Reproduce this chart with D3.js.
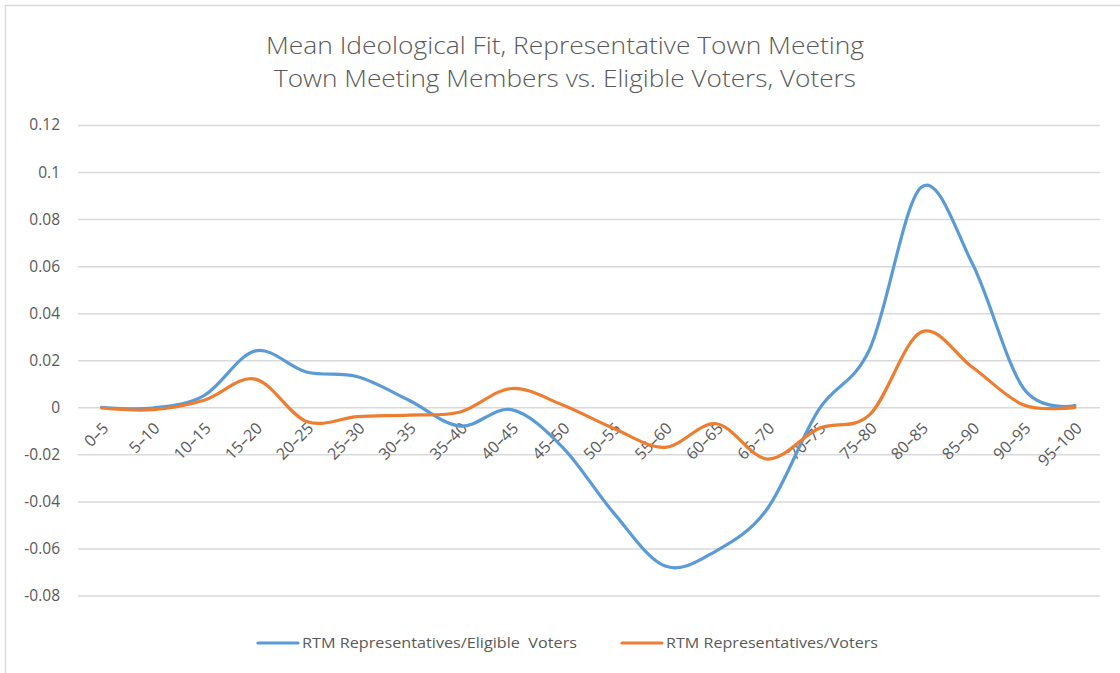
<!DOCTYPE html>
<html>
<head>
<meta charset="utf-8">
<script src="https://cdn.jsdelivr.net/npm/d3@7"></script>
<style>
  html, body { margin: 0; padding: 0; background: #ffffff; }
  svg { display: block; }
  text { font-family: "Open Sans", "Noto Sans", sans-serif; fill: #595959; }
</style>
</head>
<body>
<svg id="chart" width="1120" height="673"></svg>
<script>
const categories = ["0–5","5–10","10–15","15–20","20–25","25–30","30–35","35–40","40–45","45–50",
                    "50–55","55–60","60–65","65–70","70–75","75–80","80–85","85–90","90–95","95–100"];
const eligibleVoters = [0, -0.0003, 0.005, 0.024, 0.015, 0.013, 0.003, -0.008, -0.001, -0.017,
                        -0.045, -0.0675, -0.061, -0.043, -0.001, 0.025, 0.0935, 0.061, 0.008, 0.0007];
const voters = [-0.0003, -0.001, 0.003, 0.012, -0.006, -0.004, -0.0033, -0.002, 0.008, 0.001,
                -0.009, -0.017, -0.007, -0.022, -0.009, -0.003, 0.032, 0.017, 0.001, 0];
const yTickValues = [-0.08, -0.06, -0.04, -0.02, 0, 0.02, 0.04, 0.06, 0.08, 0.1, 0.12];
const yTickLabels = ["-0.08", "-0.06", "-0.04", "-0.02", "0", "0.02", "0.04", "0.06", "0.08", "0.1", "0.12"];
const titleLines = ["Mean Ideological Fit, Representative Town Meeting",
                    "Town Meeting Members vs. Eligible Voters, Voters"];
const seriesNames = ["RTM Representatives/Eligible  Voters", "RTM Representatives/Voters"];
const seriesColors = ["#5B9BD5", "#ED7D31"];

const svg = d3.select("#chart");

// chart frame
svg.append("rect")
  .attr("x", 5.5).attr("y", 5.5).attr("width", 1130).attr("height", 690)
  .attr("fill", "#ffffff").attr("stroke", "#d9d9d9").attr("stroke-width", 1.5);

const x = d3.scaleBand().domain(categories).range([76, 1100.5]);
const cx = d => x(d) + x.bandwidth() / 2;
const y = d3.scaleLinear().domain([-0.08, 0.12]).range([595.5, 125]);

// gridlines + y labels
const yAxis = d3.axisLeft(y).tickValues(yTickValues)
  .tickFormat((d, i) => yTickLabels[i]).tickSize(-(1100 - 78)).tickPadding(18);
const gy = svg.append("g").attr("transform", "translate(78,0)").call(yAxis);
gy.select(".domain").remove();
gy.selectAll(".tick line").attr("stroke", "#d9d9d9").attr("stroke-width", 1.5);
gy.selectAll(".tick text").attr("font-size", 15.5).attr("fill", "#595959")
  .style("font-family", "'Open Sans', sans-serif");

// category labels (rotated)
svg.append("g").selectAll("text").data(categories).join("text")
  .attr("transform", d => `translate(${cx(d) + 4},${y(0) + 18}) rotate(-45)`)
  .attr("text-anchor", "end")
  .attr("dy", "0.35em")
  .attr("font-size", 16)
  .text(d => d);

// lines
const line = d3.line()
  .x((d, i) => cx(categories[i]))
  .y(d => y(d))
  .curve(d3.curveCardinal.tension(0));

[eligibleVoters, voters].forEach((s, k) => {
  svg.append("path").datum(s)
    .attr("d", line)
    .attr("fill", "none")
    .attr("stroke", seriesColors[k])
    .attr("stroke-width", 3.2)
    .attr("stroke-linecap", "round")
    .attr("stroke-linejoin", "round");
});

// title
svg.append("g").selectAll("text").data(titleLines).join("text")
  .attr("x", 565).attr("y", (d, i) => 54 + i * 33)
  .attr("text-anchor", "middle")
  .attr("font-size", 23)
  .attr("font-weight", 300)
  .attr("textLength", (d, i) => i === 0 ? 598 : 582)
  .attr("lengthAdjust", "spacingAndGlyphs")
  .text(d => d);

// legend
const legendX = [258, 622];
const legendW = [275, 212];
const lg = svg.append("g");
seriesNames.forEach((name, k) => {
  lg.append("line")
    .attr("x1", legendX[k]).attr("x2", legendX[k] + 40)
    .attr("y1", 643).attr("y2", 643)
    .attr("stroke", seriesColors[k]).attr("stroke-width", 3.2).attr("stroke-linecap", "round");
  lg.append("text")
    .attr("x", legendX[k] + 44).attr("y", 643).attr("dy", "0.35em")
    .attr("font-size", 15)
    .attr("textLength", legendW[k])
    .attr("lengthAdjust", "spacingAndGlyphs")
    .style("white-space", "pre")
    .text(name);
});
</script>
</body>
</html>
